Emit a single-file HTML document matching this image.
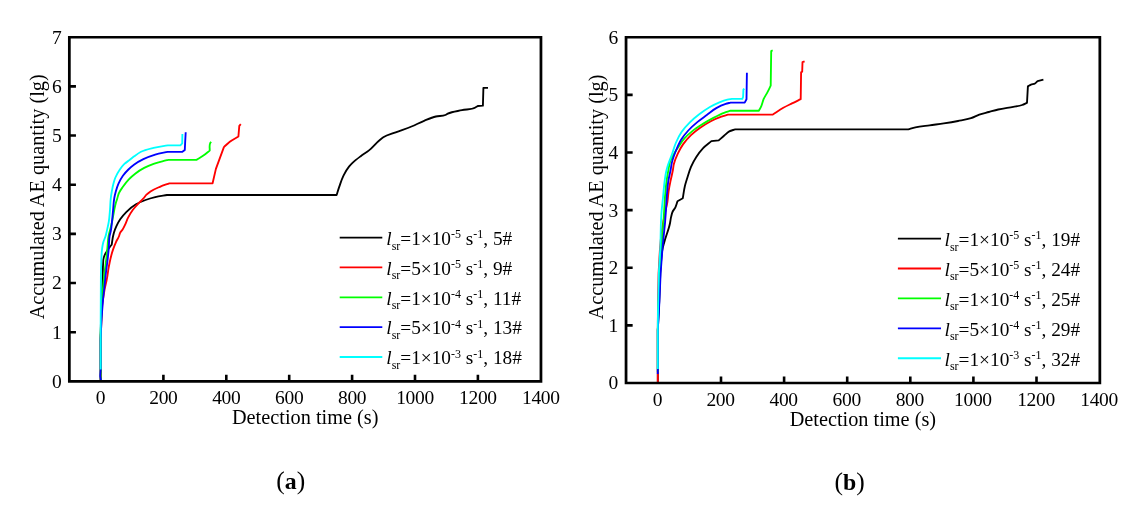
<!DOCTYPE html>
<html lang="en"><head><meta charset="utf-8"><title>Accumulated AE quantity</title>
<style>html,body{margin:0;padding:0;background:#fff}body{width:1142px;height:507px;overflow:hidden}svg{display:block}</style>
</head><body>
<svg width="1142" height="507" viewBox="0 0 1142 507" font-family="'Liberation Serif', 'Times New Roman', serif" fill="#000">
<rect width="1142" height="507" fill="#fff"/>
<path d="M69.35 332.19h6.60M69.35 283.04h6.60M69.35 233.88h6.60M69.35 184.72h6.60M69.35 135.56h6.60M69.35 86.41h6.60M163.40 381.35v-6.60M226.30 381.35v-6.60M289.20 381.35v-6.60M352.10 381.35v-6.60M415.00 381.35v-6.60M477.90 381.35v-6.60" stroke="#000" stroke-width="2.60" fill="none"/>
<path d="M100.65 381.00L100.65 335.00L101.50 300.00L102.70 275.40L102.90 267.50L103.30 259.70C103.57 258.63 103.74 257.53 104.10 256.50C104.57 255.14 105.30 253.86 106.00 252.60C107.25 250.37 108.82 248.31 110.40 246.30C110.82 245.76 111.27 245.23 111.70 244.70C111.93 243.10 112.14 241.50 112.40 239.90C112.61 238.60 112.82 237.29 113.10 236.00C113.34 234.89 113.59 233.79 113.90 232.70C114.52 230.54 115.37 228.44 116.30 226.40C117.42 223.95 118.70 221.53 120.20 219.30C122.01 216.60 124.19 214.09 126.50 211.80C129.35 208.97 132.56 206.35 136.00 204.30C138.96 202.53 142.25 201.21 145.50 200.00C148.66 198.82 151.93 197.89 155.20 197.10C159.08 196.16 163.07 195.70 167.00 195.00L336.60 195.00C337.50 192.20 338.34 189.38 339.30 186.60C340.59 182.89 341.76 179.10 343.50 175.60C345.06 172.47 346.77 169.30 349.00 166.60C350.08 165.30 351.29 164.08 352.50 162.90C355.03 160.44 357.88 158.33 360.70 156.20C363.39 154.17 366.37 152.50 369.00 150.40C373.01 147.21 376.07 142.88 380.10 139.70C381.14 138.87 382.19 138.03 383.30 137.30C387.00 134.86 391.54 133.91 395.70 132.30C400.93 130.27 406.32 128.64 411.50 126.50C415.76 124.74 419.83 122.53 424.10 120.80C427.98 119.23 431.85 117.49 435.90 116.50C439.00 115.74 442.50 116.30 445.40 115.00C446.22 114.63 446.99 114.10 447.80 113.70C452.16 111.56 457.24 111.26 462.00 110.20C466.45 109.21 471.43 109.66 475.40 107.50C476.22 107.05 477.00 106.50 477.80 106.00L482.90 105.70L483.40 87.80L488.00 87.80" fill="none" stroke="#000000" stroke-width="1.85" stroke-linejoin="round" stroke-linecap="butt"/>
<path d="M100.65 381.00L100.65 338.00L102.20 305.00C102.97 300.00 103.56 294.97 104.50 290.00C105.18 286.42 106.12 282.88 106.80 279.30C107.05 278.00 107.28 276.70 107.50 275.40C107.85 273.31 108.05 271.19 108.40 269.10C108.75 266.99 109.17 264.89 109.60 262.80C110.09 260.42 110.58 258.04 111.20 255.70C111.76 253.58 112.39 251.47 113.10 249.40C113.93 247.00 114.85 244.62 115.90 242.30C116.87 240.16 118.25 238.19 119.10 236.00C119.52 234.92 119.68 233.72 120.20 232.70C120.80 231.53 121.88 230.62 122.60 229.50C123.55 228.02 124.24 226.39 125.00 224.80C126.12 222.47 126.93 219.99 128.10 217.70C129.50 214.96 131.08 212.27 132.90 209.80C134.77 207.26 137.01 204.99 139.20 202.70C140.50 201.34 141.94 200.10 143.20 198.70C144.36 197.42 145.27 195.91 146.50 194.70C147.71 193.51 149.10 192.47 150.50 191.50C153.37 189.52 156.69 188.19 159.90 186.80C162.99 185.47 166.23 184.47 169.40 183.30L212.60 183.30L215.90 168.90L223.90 147.10C225.87 145.33 227.71 143.40 229.80 141.80C232.46 139.76 235.53 138.27 238.40 136.50L239.30 125.90L240.80 124.20" fill="none" stroke="#ff0000" stroke-width="1.85" stroke-linejoin="round" stroke-linecap="butt"/>
<path d="M100.65 381.00L100.65 335.00L101.80 300.00L104.20 275.40C104.47 273.30 104.73 271.20 105.00 269.10C105.40 265.97 105.84 262.84 106.20 259.70C106.66 255.74 107.00 251.77 107.40 247.80C107.80 243.87 107.87 239.88 108.60 236.00C109.11 233.31 109.96 230.67 110.60 228.00C111.16 225.67 111.71 223.34 112.20 221.00C112.48 219.64 112.74 218.27 113.00 216.90C113.45 214.54 113.82 212.16 114.30 209.80C114.78 207.42 115.23 205.03 115.90 202.70C116.29 201.35 116.78 200.04 117.20 198.70C117.79 196.84 118.12 194.87 118.90 193.10C119.89 190.84 121.47 188.83 122.90 186.80C124.66 184.30 126.51 181.82 128.60 179.60C130.71 177.35 133.05 175.27 135.50 173.40C138.22 171.32 141.17 169.49 144.20 167.90C147.21 166.32 150.39 165.03 153.60 163.90C156.70 162.81 159.92 162.04 163.10 161.20C164.80 160.75 166.50 160.33 168.20 159.90L196.50 159.90C198.80 158.47 201.19 157.16 203.40 155.60C205.59 154.06 207.60 152.27 209.70 150.60C209.87 148.10 209.08 145.30 210.20 143.10C210.43 142.65 210.73 142.23 211.00 141.80" fill="none" stroke="#00ff00" stroke-width="1.85" stroke-linejoin="round" stroke-linecap="butt"/>
<path d="M101.00 381.00L100.20 376.00L100.65 369.50L100.65 340.00C100.93 333.33 101.11 326.66 101.50 320.00C101.89 313.33 102.50 306.67 103.00 300.00L105.60 275.40C105.87 273.30 106.13 271.20 106.40 269.10C106.80 265.97 107.24 262.84 107.60 259.70C108.06 255.74 108.47 251.77 108.80 247.80C109.13 243.87 108.86 239.86 109.60 236.00C109.91 234.35 110.46 232.75 110.80 231.10C111.43 228.01 111.65 224.84 112.00 221.70C112.44 217.74 112.72 213.76 113.10 209.80C113.48 205.86 113.59 201.88 114.30 198.00C114.70 195.82 115.20 193.64 115.80 191.50C116.54 188.86 117.39 186.21 118.50 183.70C119.72 180.95 121.17 178.24 122.90 175.80C124.50 173.54 126.41 171.45 128.40 169.50C130.24 167.70 132.22 166.01 134.30 164.50C137.13 162.44 140.26 160.74 143.40 159.20C147.18 157.34 151.17 155.83 155.20 154.60C159.30 153.35 163.60 152.73 167.80 151.80L182.40 151.80L184.80 149.90L185.20 141.40L185.70 132.20" fill="none" stroke="#0000ff" stroke-width="1.85" stroke-linejoin="round" stroke-linecap="butt"/>
<path d="M100.65 369.50L100.65 330.00L100.90 275.40L101.30 259.70C101.57 256.00 101.56 252.26 102.10 248.60C102.41 246.49 102.74 244.36 103.30 242.30C103.89 240.15 104.97 238.14 105.60 236.00C106.08 234.39 106.42 232.74 106.80 231.10C107.53 227.98 108.29 224.86 108.80 221.70C109.44 217.77 109.67 213.77 110.00 209.80C110.33 205.87 110.32 201.91 110.80 198.00C111.07 195.83 111.42 193.66 111.80 191.50C112.26 188.89 112.71 186.26 113.40 183.70C113.96 181.61 114.57 179.50 115.40 177.50C116.53 174.77 118.03 172.14 119.70 169.70C121.10 167.65 122.61 165.60 124.40 163.90C125.96 162.42 127.88 161.32 129.60 160.00C131.05 158.88 132.44 157.69 133.90 156.60C136.19 154.90 138.49 153.10 141.00 151.80C144.86 149.80 149.34 148.94 153.60 147.90C158.26 146.76 163.07 146.23 167.80 145.40L180.40 145.40L182.20 143.40L182.40 133.90" fill="none" stroke="#00ffff" stroke-width="1.85" stroke-linejoin="round" stroke-linecap="butt"/>
<path fill="#000" fill-rule="evenodd" d="M67.97 35.92H542.33V382.68H67.97ZM70.72 38.58H539.58V380.03H70.72Z"/>
<g font-size="19.50" text-anchor="end">
<text x="61.65" y="387.75">0</text>
<text x="61.65" y="338.59">1</text>
<text x="61.65" y="289.44">2</text>
<text x="61.65" y="240.28">3</text>
<text x="61.65" y="191.12">4</text>
<text x="61.65" y="141.96">5</text>
<text x="61.65" y="92.81">6</text>
<text x="61.65" y="43.65">7</text>
</g>
<g font-size="19.50" text-anchor="middle" letter-spacing="-0.35">
<text x="100.50" y="403.75">0</text>
<text x="163.40" y="403.75">200</text>
<text x="226.30" y="403.75">400</text>
<text x="289.20" y="403.75">600</text>
<text x="352.10" y="403.75">800</text>
<text x="415.00" y="403.75">1000</text>
<text x="477.90" y="403.75">1200</text>
<text x="540.80" y="403.75">1400</text>
</g>
<text font-size="20.30" text-anchor="middle" x="305.20" y="424.10">Detection time (s)</text>
<text font-size="20.30" text-anchor="middle" transform="translate(43.70 196.80) rotate(-90)">Accumulated AE quantity (lg)</text>
<line x1="339.70" y1="237.60" x2="382.30" y2="237.60" stroke="#000000" stroke-width="1.85"/>
<text font-size="19.30" x="386.30" y="244.90"><tspan font-style="italic">l</tspan><tspan font-size="11.97" dy="4.6">sr</tspan><tspan dy="-4.6">=1×10</tspan><tspan font-size="11.97" dy="-6.8">-5</tspan><tspan dy="6.8"> s</tspan><tspan font-size="11.97" dy="-6.8">-1</tspan><tspan dy="6.8">, 5#</tspan></text>
<line x1="339.70" y1="267.40" x2="382.30" y2="267.40" stroke="#ff0000" stroke-width="1.85"/>
<text font-size="19.30" x="386.30" y="274.70"><tspan font-style="italic">l</tspan><tspan font-size="11.97" dy="4.6">sr</tspan><tspan dy="-4.6">=5×10</tspan><tspan font-size="11.97" dy="-6.8">-5</tspan><tspan dy="6.8"> s</tspan><tspan font-size="11.97" dy="-6.8">-1</tspan><tspan dy="6.8">, 9#</tspan></text>
<line x1="339.70" y1="297.30" x2="382.30" y2="297.30" stroke="#00ff00" stroke-width="1.85"/>
<text font-size="19.30" x="386.30" y="304.60"><tspan font-style="italic">l</tspan><tspan font-size="11.97" dy="4.6">sr</tspan><tspan dy="-4.6">=1×10</tspan><tspan font-size="11.97" dy="-6.8">-4</tspan><tspan dy="6.8"> s</tspan><tspan font-size="11.97" dy="-6.8">-1</tspan><tspan dy="6.8">, 11#</tspan></text>
<line x1="339.70" y1="327.10" x2="382.30" y2="327.10" stroke="#0000ff" stroke-width="1.85"/>
<text font-size="19.30" x="386.30" y="334.40"><tspan font-style="italic">l</tspan><tspan font-size="11.97" dy="4.6">sr</tspan><tspan dy="-4.6">=5×10</tspan><tspan font-size="11.97" dy="-6.8">-4</tspan><tspan dy="6.8"> s</tspan><tspan font-size="11.97" dy="-6.8">-1</tspan><tspan dy="6.8">, 13#</tspan></text>
<line x1="339.70" y1="357.00" x2="382.30" y2="357.00" stroke="#00ffff" stroke-width="1.85"/>
<text font-size="19.30" x="386.30" y="364.30"><tspan font-style="italic">l</tspan><tspan font-size="11.97" dy="4.6">sr</tspan><tspan dy="-4.6">=1×10</tspan><tspan font-size="11.97" dy="-6.8">-3</tspan><tspan dy="6.8"> s</tspan><tspan font-size="11.97" dy="-6.8">-1</tspan><tspan dy="6.8">, 18#</tspan></text>
<text font-size="25.5" text-anchor="middle" x="290.80" y="488.60">(<tspan font-weight="bold" font-size="23.8">a</tspan>)</text>
<path d="M626.05 325.38h6.60M626.05 267.75h6.60M626.05 210.12h6.60M626.05 152.50h6.60M626.05 94.88h6.60M721.00 383.00v-6.60M784.10 383.00v-6.60M847.20 383.00v-6.60M910.30 383.00v-6.60M973.40 383.00v-6.60M1036.50 383.00v-6.60" stroke="#000" stroke-width="2.60" fill="none"/>
<path d="M657.80 382.00L657.80 330.00L659.20 302.00L660.30 273.20C660.60 268.80 660.80 264.39 661.20 260.00C661.51 256.66 661.68 253.29 662.30 250.00C662.78 247.44 663.53 244.92 664.20 242.40C665.91 235.94 668.66 229.74 670.00 223.20C670.43 221.11 670.61 218.97 671.10 216.90C671.53 215.08 671.91 213.18 672.70 211.50C673.40 210.01 674.66 208.78 675.40 207.30C676.36 205.39 676.80 203.23 677.50 201.20L682.80 198.20C683.50 194.13 683.92 190.00 684.90 186.00C685.52 183.47 686.33 180.99 687.10 178.50C688.31 174.57 689.36 170.56 691.00 166.80C692.49 163.38 694.27 160.03 696.30 156.90C698.26 153.88 700.43 150.90 702.90 148.30C705.44 145.62 708.57 143.50 711.40 141.10L718.70 140.40C720.47 138.87 722.22 137.31 724.00 135.80C725.75 134.31 727.32 132.48 729.30 131.40C731.09 130.42 733.23 130.07 735.20 129.40L908.30 129.40C910.67 128.73 913.01 127.96 915.40 127.40C920.05 126.31 924.86 125.97 929.60 125.30C934.33 124.63 939.08 124.11 943.80 123.40C948.55 122.68 953.29 121.91 958.00 121.00C962.35 120.16 966.83 119.63 971.00 118.20C973.84 117.23 976.47 115.61 979.30 114.60C982.39 113.50 985.63 112.86 988.80 112.00C991.93 111.16 995.04 110.23 998.20 109.50C1003.14 108.35 1008.21 107.77 1013.20 106.80C1016.17 106.22 1019.26 106.00 1022.10 105.00C1023.78 104.41 1025.37 103.53 1027.00 102.80L1027.90 86.40C1028.93 85.80 1029.91 85.07 1031.00 84.60C1032.26 84.06 1033.84 84.17 1035.00 83.50C1035.99 82.92 1036.73 81.90 1037.60 81.10L1043.40 79.60" fill="none" stroke="#000000" stroke-width="1.85" stroke-linejoin="round" stroke-linecap="butt"/>
<path d="M657.80 382.00L657.80 330.00L658.00 300.00L658.60 273.00L659.90 250.00C660.57 243.33 660.94 236.63 661.90 230.00C662.63 224.98 663.61 219.98 664.60 215.00C665.46 210.65 666.71 206.37 667.40 202.00C667.96 198.46 668.07 194.85 668.60 191.30C669.13 187.71 669.88 184.16 670.60 180.60C671.32 177.06 672.27 173.56 672.90 170.00C673.24 168.07 673.37 166.10 673.80 164.20C674.64 160.54 676.20 157.01 677.80 153.60C679.30 150.42 681.01 147.28 683.00 144.40C685.32 141.05 688.06 137.91 691.00 135.10C693.82 132.41 697.01 130.06 700.20 127.80C703.59 125.40 707.12 123.12 710.80 121.20C714.21 119.43 717.77 117.87 721.40 116.60C723.57 115.84 725.80 115.27 728.00 114.60L772.90 114.60C776.37 112.33 779.70 109.84 783.30 107.80C786.12 106.20 789.09 104.84 792.00 103.40C794.89 101.97 797.80 100.60 800.70 99.20L801.10 72.30L802.20 71.60L802.50 62.10L804.60 61.30" fill="none" stroke="#ff0000" stroke-width="1.85" stroke-linejoin="round" stroke-linecap="butt"/>
<path d="M657.80 372.00L657.80 330.00L658.60 300.00L659.80 273.00L661.20 246.60L663.40 223.20L665.00 196.60C665.53 191.27 665.85 185.90 666.60 180.60C667.10 177.05 667.74 173.52 668.40 170.00C668.90 167.33 669.16 164.56 670.00 162.00C671.03 158.84 672.81 155.89 674.50 153.00C675.70 150.94 677.07 148.98 678.40 147.00C680.34 144.10 682.12 141.02 684.40 138.40C686.74 135.71 689.51 133.34 692.30 131.10C695.62 128.43 699.28 126.16 702.90 123.90C706.32 121.77 709.83 119.76 713.40 117.90C716.86 116.10 720.36 114.30 724.00 112.90C726.16 112.07 728.40 111.43 730.60 110.70L758.90 110.70C759.67 109.23 760.53 107.81 761.20 106.30C762.21 104.03 762.61 101.48 763.60 99.20C764.67 96.73 766.25 94.49 767.50 92.10C768.60 89.99 769.63 87.83 770.70 85.70L771.20 51.00L772.70 50.30" fill="none" stroke="#00ff00" stroke-width="1.85" stroke-linejoin="round" stroke-linecap="butt"/>
<path d="M657.80 373.90L657.80 330.00L659.40 302.00L660.60 273.20L662.60 246.60L665.00 223.20C665.27 219.67 665.55 216.13 665.80 212.60C666.17 207.27 666.37 201.93 666.80 196.60C667.23 191.26 667.53 185.88 668.40 180.60C668.98 177.04 669.95 173.55 670.60 170.00C671.04 167.64 671.27 165.23 671.80 162.90C672.73 158.83 674.24 154.88 675.80 151.00C677.35 147.15 678.92 143.21 681.10 139.70C683.14 136.41 685.68 133.36 688.30 130.50C691.14 127.39 694.35 124.59 697.60 121.90C700.55 119.46 703.72 117.28 706.80 115.00C709.95 112.68 712.92 110.03 716.30 108.10C719.27 106.41 722.45 104.96 725.70 103.90C727.27 103.39 728.90 103.03 730.50 102.60L744.70 102.60L746.50 99.20L746.90 72.80" fill="none" stroke="#0000ff" stroke-width="1.85" stroke-linejoin="round" stroke-linecap="butt"/>
<path d="M657.80 369.10L657.80 323.00L658.80 273.20L660.40 246.60L660.90 223.20C661.10 219.67 661.24 216.13 661.50 212.60C661.89 207.26 662.57 201.93 663.10 196.60C663.63 191.27 663.95 185.91 664.70 180.60C665.10 177.73 665.48 174.83 666.10 172.00C666.58 169.81 667.15 167.64 667.80 165.50C668.90 161.89 670.53 158.46 671.80 154.90C673.21 150.96 674.16 146.84 675.80 143.00C677.45 139.13 679.33 135.26 681.70 131.80C683.97 128.48 686.75 125.45 689.60 122.60C692.48 119.71 695.67 117.10 698.90 114.60C702.42 111.87 706.05 109.22 709.90 107.00C712.95 105.24 716.13 103.63 719.40 102.30C721.97 101.25 724.60 100.22 727.30 99.60C728.84 99.24 730.43 99.07 732.00 98.80L742.30 98.80L743.10 96.80L743.40 89.70L744.30 88.60" fill="none" stroke="#00ffff" stroke-width="1.85" stroke-linejoin="round" stroke-linecap="butt"/>
<path fill="#000" fill-rule="evenodd" d="M624.67 35.92H1101.22V384.32H624.67ZM627.42 38.58H1098.47V381.68H627.42Z"/>
<g font-size="19.50" text-anchor="end">
<text x="618.35" y="389.40">0</text>
<text x="618.35" y="331.77">1</text>
<text x="618.35" y="274.15">2</text>
<text x="618.35" y="216.53">3</text>
<text x="618.35" y="158.90">4</text>
<text x="618.35" y="101.28">5</text>
<text x="618.35" y="43.65">6</text>
</g>
<g font-size="19.50" text-anchor="middle" letter-spacing="-0.35">
<text x="657.40" y="405.90">0</text>
<text x="720.50" y="405.90">200</text>
<text x="783.60" y="405.90">400</text>
<text x="846.70" y="405.90">600</text>
<text x="909.80" y="405.90">800</text>
<text x="972.90" y="405.90">1000</text>
<text x="1036.00" y="405.90">1200</text>
<text x="1099.10" y="405.90">1400</text>
</g>
<text font-size="20.30" text-anchor="middle" x="862.90" y="426.00">Detection time (s)</text>
<text font-size="20.30" text-anchor="middle" transform="translate(602.80 197.00) rotate(-90)">Accumulated AE quantity (lg)</text>
<line x1="897.90" y1="238.60" x2="941.00" y2="238.60" stroke="#000000" stroke-width="1.85"/>
<text font-size="19.30" x="944.60" y="245.90"><tspan font-style="italic">l</tspan><tspan font-size="11.97" dy="4.6">sr</tspan><tspan dy="-4.6">=1×10</tspan><tspan font-size="11.97" dy="-6.8">-5</tspan><tspan dy="6.8"> s</tspan><tspan font-size="11.97" dy="-6.8">-1</tspan><tspan dy="6.8">, 19#</tspan></text>
<line x1="897.90" y1="268.50" x2="941.00" y2="268.50" stroke="#ff0000" stroke-width="1.85"/>
<text font-size="19.30" x="944.60" y="275.80"><tspan font-style="italic">l</tspan><tspan font-size="11.97" dy="4.6">sr</tspan><tspan dy="-4.6">=5×10</tspan><tspan font-size="11.97" dy="-6.8">-5</tspan><tspan dy="6.8"> s</tspan><tspan font-size="11.97" dy="-6.8">-1</tspan><tspan dy="6.8">, 24#</tspan></text>
<line x1="897.90" y1="298.40" x2="941.00" y2="298.40" stroke="#00ff00" stroke-width="1.85"/>
<text font-size="19.30" x="944.60" y="305.70"><tspan font-style="italic">l</tspan><tspan font-size="11.97" dy="4.6">sr</tspan><tspan dy="-4.6">=1×10</tspan><tspan font-size="11.97" dy="-6.8">-4</tspan><tspan dy="6.8"> s</tspan><tspan font-size="11.97" dy="-6.8">-1</tspan><tspan dy="6.8">, 25#</tspan></text>
<line x1="897.90" y1="328.30" x2="941.00" y2="328.30" stroke="#0000ff" stroke-width="1.85"/>
<text font-size="19.30" x="944.60" y="335.60"><tspan font-style="italic">l</tspan><tspan font-size="11.97" dy="4.6">sr</tspan><tspan dy="-4.6">=5×10</tspan><tspan font-size="11.97" dy="-6.8">-4</tspan><tspan dy="6.8"> s</tspan><tspan font-size="11.97" dy="-6.8">-1</tspan><tspan dy="6.8">, 29#</tspan></text>
<line x1="897.90" y1="358.20" x2="941.00" y2="358.20" stroke="#00ffff" stroke-width="1.85"/>
<text font-size="19.30" x="944.60" y="365.50"><tspan font-style="italic">l</tspan><tspan font-size="11.97" dy="4.6">sr</tspan><tspan dy="-4.6">=1×10</tspan><tspan font-size="11.97" dy="-6.8">-3</tspan><tspan dy="6.8"> s</tspan><tspan font-size="11.97" dy="-6.8">-1</tspan><tspan dy="6.8">, 32#</tspan></text>
<text font-size="25.5" text-anchor="middle" x="849.60" y="489.60">(<tspan font-weight="bold" font-size="23.8">b</tspan>)</text>
</svg>
</body></html>
